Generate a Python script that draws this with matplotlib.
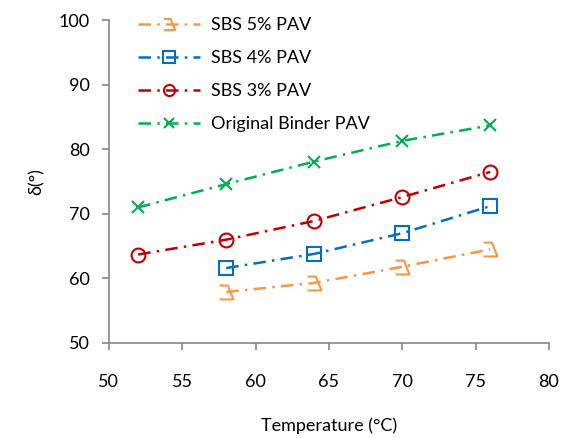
import matplotlib.pyplot as plt
from matplotlib.path import Path

plt.rcParams['font.family'] = ['Lato', 'DejaVu Sans']

# Data
temps_full = [52, 58, 64, 70, 76]
temps_sbs5 = [58, 64, 70, 76]
temps_sbs4 = [58, 64, 70, 76]
temps_sbs3 = [52, 58, 64, 70, 76]

sbs5 = [57.9, 59.3, 61.8, 64.5]
sbs4 = [61.6, 63.8, 67.0, 71.2]
sbs3 = [63.7, 66.0, 68.9, 72.6, 76.5]
original = [71.0, 74.6, 78.1, 81.3, 83.7]

# odd hook-shaped marker for the 5% series
hook = Path([(-0.5, 0.5), (0.1, 0.5), (0.5, -0.5), (-0.5, -0.5)],
            [Path.MOVETO, Path.LINETO, Path.LINETO, Path.LINETO])

fig = plt.figure(figsize=(5.73, 4.38), dpi=100)
ax = fig.add_axes([0.190, 0.217, 0.768, 0.737])

dash = (5, 2.5, 1, 2.5)
ax.plot(temps_sbs5, sbs5, color='#f79646', lw=1.8, dashes=dash,
        marker=hook, ms=10, mew=1.5, fillstyle='none', label='SBS 5% PAV')
ax.plot(temps_sbs4, sbs4, color='#0070c0', lw=1.8, dashes=dash,
        marker='s', ms=10, mew=1.5, fillstyle='none', label='SBS 4% PAV')
ax.plot(temps_sbs3, sbs3, color='#c00000', lw=1.8, dashes=dash,
        marker='o', ms=10, mew=1.5, fillstyle='none', label='SBS 3% PAV')
ax.plot(temps_full, original, color='#00b050', lw=1.8, dashes=dash,
        marker='x', ms=9, mew=1.5, label='Original Binder PAV')

ax.set_xlim(50, 80)
ax.set_ylim(50, 100)
ax.set_xticks(range(50, 81, 5))
ax.set_yticks(range(50, 101, 10))

for s in ['top', 'right']:
    ax.spines[s].set_visible(False)
for s in ['left', 'bottom']:
    ax.spines[s].set_color('#868686')
    ax.spines[s].set_linewidth(1.2)
ax.tick_params(colors='#868686', labelcolor='black', labelsize=13,
               length=5, width=1.2, direction='out')
ax.tick_params(axis='x', pad=17)
ax.tick_params(axis='y', pad=9)

ax.set_xlabel('Temperature (°C)', fontsize=13, labelpad=20)
ax.set_ylabel('δ(°)', fontsize=13, labelpad=10)

ax.legend(loc='upper left', bbox_to_anchor=(0.03, 1.06), frameon=False,
          fontsize=13, labelspacing=0.95, handlelength=3.4, handletextpad=0.6,
          numpoints=1, markerscale=0.8)

fig.savefig('out.png', dpi=100)
